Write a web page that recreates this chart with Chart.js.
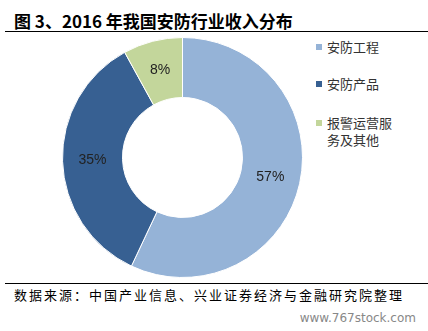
<!DOCTYPE html>
<html>
<head>
<meta charset="utf-8">
<script src="https://cdn.jsdelivr.net/npm/chart.js@4/dist/chart.umd.min.js"></script>
<style>
  body { margin: 0; width: 428px; height: 331px; background: #fff; position: relative; overflow: hidden;
         font-family: "Noto Sans CJK SC", sans-serif; }
  #title { position: absolute; left: 14px; top: 8px; font-size: 17px; font-weight: bold; color: #000; white-space: nowrap; }
  .rule { position: absolute; left: 5px; right: 0; height: 1px; background: #000; }
  #wrap { position: absolute; left: 62px; top: 37px; width: 241px; height: 241px; }
  #legend { position: absolute; left: 316px; top: 38px; width: 80px; font-size: 13px; color: #333; }
  .item { position: relative; padding-left: 11px; line-height: 17px; }
  .item span.box { position: absolute; left: 0; top: 6px; width: 6px; height: 6px; }
  #source { position: absolute; left: 14px; top: 285px; font-size: 13px; letter-spacing: 2px; color: #000; white-space: nowrap; }
  #mark { position: absolute; right: 12px; top: 311px; font-size: 12px; color: #888; font-family: "DejaVu Sans", sans-serif; }
</style>
</head>
<body>
<div id="title">图 3、2016 年我国安防行业收入分布</div>
<div class="rule" style="top:31px"></div>
<div id="wrap"><canvas id="myChart"></canvas></div>
<div id="legend"></div>
<div class="rule" style="top:283px"></div>
<div id="source">数据来源：中国产业信息、兴业证券经济与金融研究院整理</div>
<div id="mark">www.767stock.com</div>
<script>
// Data
const kategori = ['安防工程', '安防产品', '报警运营服务及其他'];
const nilai = [57, 35, 8];
const warna = ['#95B3D7', '#376092', '#C3D69B'];

// Legend HTML
const legendEl = document.getElementById('legend');
const jarak = [0, 20, 22];
kategori.forEach((k, i) => {
    const div = document.createElement('div');
    div.className = 'item';
    div.style.marginTop = jarak[i] + 'px';
    div.innerHTML = '<span class="box" style="background:' + warna[i] + '"></span>' + k;
    legendEl.appendChild(div);
});

// Plugin label persen
const labelPlugin = {
    id: 'labelPersen',
    afterDatasetsDraw(chart) {
        const ctx = chart.ctx;
        const meta = chart.getDatasetMeta(0);
        ctx.save();
        ctx.font = '14px "Liberation Sans", sans-serif';
        ctx.fillStyle = '#222';
        ctx.textAlign = 'center';
        ctx.textBaseline = 'middle';
        meta.data.forEach((arc, i) => {
            const p = arc.tooltipPosition();
            ctx.fillText(nilai[i] + '%', p.x, p.y);
        });
        ctx.restore();
    }
};

const ctx = document.getElementById('myChart').getContext('2d');
const myChart = new Chart(ctx, {
    type: 'doughnut',
    data: {
        labels: kategori,
        datasets: [{ data: nilai, backgroundColor: warna, borderColor: '#fff', borderWidth: 1 }]
    },
    options: {
        responsive: true,
        maintainAspectRatio: false,
        animation: false,
        cutout: '50%',
        plugins: { legend: { display: false }, tooltip: { enabled: false } }
    },
    plugins: [labelPlugin]
});
</script>
</body>
</html>
